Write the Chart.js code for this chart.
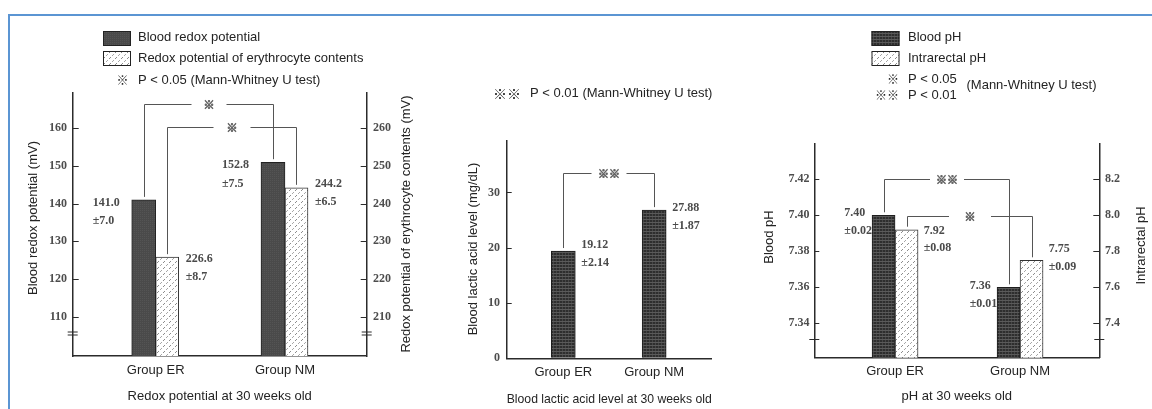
<!DOCTYPE html>
<html>
<head>
<meta charset="utf-8">
<script src="https://cdn.jsdelivr.net/npm/chart.js@4.4.1/dist/chart.umd.min.js"></script>
<style>
  html, body { margin: 0; padding: 0; background: #fff; }
  #wrap { position: relative; width: 1152px; height: 409px; overflow: hidden; }
  #frame { position: absolute; left: 8px; top: 14px; right: -10px; bottom: -10px;
           border-top: 2px solid #5b95d3; border-left: 2px solid #5b95d3; }
  canvas { position: absolute; top: 0; }
</style>
</head>
<body>
<div id="wrap">
  <div id="frame"></div>
  <canvas id="redox" width="415" height="409" style="left:0"></canvas>
  <canvas id="lactic" width="335" height="409" style="left:415px"></canvas>
  <canvas id="ph" width="402" height="409" style="left:750px"></canvas>
</div>
<script>
// ---- data ----
const groups = ["Group ER", "Group NM"];
const groupPos = [1, 2];

// bar heights as drawn in the figure
const bloodRedox = [141.0, 151.0];
const erythRedox = [225.8, 244.2];
const bloodRedoxMean = ["141.0", "152.8"];
const bloodRedoxSd = ["±7.0", "±7.5"];
const erythRedoxMean = ["226.6", "244.2"];
const erythRedoxSd = ["±8.7", "±6.5"];
const redoxTicksLeft = [110, 120, 130, 140, 150, 160];
const redoxTicksRight = [210, 220, 230, 240, 250, 260];

const lactic = [19.4, 26.8];
const lacticMean = ["19.12", "27.88"];
const lacticSd = ["±2.14", "±1.87"];
const lacticTicks = [0, 10, 20, 30];

const bloodPH = [7.40, 7.36];
const rectalPH = [7.92, 7.75];
const bloodPHMean = ["7.40", "7.36"];
const bloodPHSd = ["±0.02", "±0.01"];
const rectalPHMean = ["7.92", "7.75"];
const rectalPHSd = ["±0.08", "±0.09"];
const phTicksLeft = [7.34, 7.36, 7.38, 7.40, 7.42];
const phTicksRight = [7.4, 7.6, 7.8, 8.0, 8.2];

// ---- look ----
const SANS = '"Liberation Sans", Arial, "Noto Sans CJK JP", sans-serif';
const SERIF = '"Liberation Serif", "DejaVu Serif", serif';
const MARK = '"Noto Sans CJK JP", "DejaVu Sans", sans-serif';
const INK = "#2b2b2b";
const TXT = "#242424";
const TICK = "#4d4d4d";
const LINE = "#555555";

function tile(size, paint) {
  const c = document.createElement("canvas");
  c.width = size; c.height = size;
  const g = c.getContext("2d");
  paint(g);
  return g.createPattern(c, "repeat");
}
const SOLID_DARK = tile(2, (g) => {
  g.fillStyle = "#4a4a4a"; g.fillRect(0, 0, 2, 2);
  g.fillStyle = "#545454"; g.fillRect(0, 0, 1, 1);
});
const GRID_DARK = tile(3, (g) => {
  g.fillStyle = "#2e2e2e"; g.fillRect(0, 0, 3, 3);
  g.fillStyle = "#5a5a5a"; g.fillRect(0, 0, 3, 1);
  g.fillStyle = "#464646"; g.fillRect(0, 1, 1, 2);
});
const DOTTED = tile(6, (g) => {
  g.fillStyle = "#ffffff"; g.fillRect(0, 0, 6, 6);
  g.fillStyle = "#8c8c8c";
  g.fillRect(1, 4, 1, 1); g.fillRect(2, 3, 1, 1);
  g.fillStyle = "#a8a8a8";
  g.fillRect(4, 1, 1, 1); g.fillRect(5, 0, 1, 1);
});

function points(values) {
  return groupPos.map((x, i) => ({ x, y: values[i] }));
}

function groupAxis(min, max, height, labelPad, title, titlePad) {
  return {
    type: "linear", position: "bottom", min, max, offset: false,
    afterBuildTicks: (s) => { s.ticks = groupPos.map((v) => ({ value: v })); },
    afterFit: (s) => { s.height = height; },
    grid: { display: true, drawOnChartArea: false, drawTicks: false, offset: false },
    border: { display: true, color: INK, width: 1.5 },
    ticks: {
      color: TXT, padding: labelPad, maxRotation: 0, autoSkip: false,
      font: { family: SANS, size: 13 },
      callback: (v) => groups[groupPos.indexOf(v)] || "",
    },
    title: { display: true, text: title, color: TXT, font: { family: SANS, size: 13 },
             padding: { top: 0, bottom: titlePad } },
  };
}

function valueAxis(position, min, max, tickList, digits, width, labelPad) {
  return {
    type: "linear", position, min, max,
    afterBuildTicks: (s) => { s.ticks = tickList.map((v) => ({ value: v })); },
    afterFit: (s) => { s.width = width; },
    grid: { display: true, drawOnChartArea: false, drawTicks: false },
    border: { display: true, color: INK, width: 1.5 },
    ticks: {
      color: TICK, padding: labelPad,
      font: { family: SERIF, size: 12, weight: "bold" },
      callback: (v) => Number(v).toFixed(digits),
    },
  };
}

// annotations drawn on top: legend, inward tick marks, significance brackets, mean ± sd, axis breaks
function decor(cfg) {
  return {
    id: "decor",
    afterDraw(chart) {
      const ctx = chart.ctx;
      const area = chart.chartArea;
      ctx.save();

      (cfg.swatches || []).forEach((s) => {
        ctx.fillStyle = s.fill;
        ctx.fillRect(s.x, s.y, s.w, s.h);
        ctx.strokeStyle = "#222"; ctx.lineWidth = 1;
        ctx.strokeRect(s.x + 0.5, s.y + 0.5, s.w - 1, s.h - 1);
      });
      (cfg.texts || []).forEach((t) => {
        ctx.font = t.font || "13px " + SANS;
        ctx.fillStyle = TXT;
        ctx.textAlign = t.align || "left";
        ctx.textBaseline = "middle";
        ctx.fillText(t.text, t.x, t.y);
      });

      (cfg.vtitles || []).forEach((t) => {
        ctx.save();
        ctx.translate(t.x, t.y);
        ctx.rotate(-Math.PI / 2);
        ctx.font = "13px " + SANS;
        ctx.fillStyle = TXT;
        ctx.textAlign = "center";
        ctx.textBaseline = "middle";
        ctx.fillText(t.text, 0, 0);
        ctx.restore();
      });

      // tick marks pointing into the plot
      (cfg.inTicks || []).forEach((k) => {
        const s = chart.scales[k.axis];
        const x0 = k.axis === "y" ? area.left : area.right;
        const dir = k.axis === "y" ? 1 : -1;
        ctx.strokeStyle = INK; ctx.lineWidth = 1.2;
        ctx.beginPath();
        s.ticks.forEach((t) => {
          const y = Math.round(s.getPixelForValue(t.value)) + 0.5;
          ctx.moveTo(x0, y); ctx.lineTo(x0 + dir * k.len, y);
        });
        ctx.stroke();
      });

      (cfg.brackets || []).forEach((b) => {
        const a = chart.getDatasetMeta(b.from[0]).data[b.from[1]];
        const z = chart.getDatasetMeta(b.to[0]).data[b.to[1]];
        const yl = Math.round(chart.scales[b.axis].getPixelForValue(b.level)) + 0.5;
        const x1 = Math.round(a.x) + 0.5, x2 = Math.round(z.x) + 0.5;
        const mid = (x1 + x2) / 2, half = b.gap / 2;
        ctx.strokeStyle = LINE; ctx.lineWidth = 1;
        ctx.beginPath();
        ctx.moveTo(x1, a.y - 3); ctx.lineTo(x1, yl); ctx.lineTo(mid - half, yl);
        ctx.moveTo(mid + half, yl); ctx.lineTo(x2, yl); ctx.lineTo(x2, z.y - 3);
        ctx.stroke();
        ctx.font = "bold 11px " + MARK;
        ctx.fillStyle = "#505050";
        ctx.strokeStyle = "#666"; ctx.lineWidth = 0.8;
        ctx.textAlign = "center"; ctx.textBaseline = "middle";
        ctx.fillText(b.mark, mid, yl);
        ctx.strokeText(b.mark, mid, yl);
      });

      (cfg.values || []).forEach((v) => {
        const bar = chart.getDatasetMeta(v.ds).data[v.idx];
        const half = bar.width / 2;
        const x = v.side === "left" ? bar.x - half + v.dx : bar.x + half + v.dx;
        ctx.font = "bold 12px " + SERIF;
        ctx.fillStyle = "#4a4a4a";
        ctx.textAlign = "left"; ctx.textBaseline = "middle";
        v.lines.forEach((t, i) => ctx.fillText(t, x, bar.y + v.dy + i * cfg.lineGap));
      });

      (cfg.breaks || []).forEach((k) => {
        const y = Math.round(chart.scales[k.axis].getPixelForValue(k.value)) + 0.5;
        const x = k.axis === "y" ? area.left : area.right;
        ctx.strokeStyle = INK; ctx.lineWidth = 1;
        ctx.beginPath();
        const offs = k.double ? [-1.5, 1.5] : [0];
        offs.forEach((o) => { ctx.moveTo(x - 5, y + o); ctx.lineTo(x + 5, y + o); });
        ctx.stroke();
      });

      ctx.restore();
    },
  };
}

const base = {
  responsive: false,
  animation: false,
  events: [],
};

// ---- panel 1: redox potential ----
new Chart(document.getElementById("redox"), {
  type: "bar",
  data: {
    datasets: [
      { label: "Blood redox potential", data: points(bloodRedox), yAxisID: "y",
        backgroundColor: SOLID_DARK, borderColor: "#222", borderWidth: 1, barThickness: 24 },
      { label: "Redox potential of erythrocyte contents", data: points(erythRedox), yAxisID: "y2",
        backgroundColor: DOTTED, borderColor: "#333", borderWidth: 1, barThickness: 23 },
    ],
  },
  options: {
    ...base,
    layout: { padding: { top: 93, left: 0, right: 0, bottom: 0 } },
    plugins: { legend: { display: false }, tooltip: { enabled: false } },
    scales: {
      x: groupAxis(0.358, 2.632, 53, 6.9, "Redox potential at 30 weeks old", 4.5),
      y: valueAxis("left", 99.57, 169.37, redoxTicksLeft, 0, 72.7, 5.7),
      y2: valueAxis("right", 199.57, 269.37, redoxTicksRight, 0, 48.3, 6.3),
    },
  },
  plugins: [decor({
    swatches: [
      { x: 103, y: 31, w: 28, h: 15, fill: SOLID_DARK },
      { x: 103, y: 51, w: 28, h: 15, fill: DOTTED },
    ],
    texts: [
      { text: "Blood redox potential", x: 138, y: 37.5 },
      { text: "Redox potential of erythrocyte contents", x: 138, y: 58.5 },
      { text: "※", x: 122.5, y: 80, align: "center", font: "12px " + MARK },
      { text: "P < 0.05 (Mann-Whitney U test)", x: 138, y: 80 },
    ],
    vtitles: [
      { text: "Blood redox potential (mV)", x: 33.5, y: 218 },
      { text: "Redox potential of erythrocyte contents (mV)", x: 406, y: 224 },
    ],
    inTicks: [{ axis: "y", len: 6 }, { axis: "y2", len: 6 }],
    brackets: [
      { from: [0, 0], to: [0, 1], axis: "y", level: 166.5, gap: 35, mark: "※" },
      { from: [1, 0], to: [1, 1], axis: "y", level: 160.3, gap: 37, mark: "※" },
    ],
    lineGap: 18.5,
    values: [
      { ds: 0, idx: 0, side: "left", dx: -39, dy: 3, lines: [bloodRedoxMean[0], bloodRedoxSd[0]] },
      { ds: 1, idx: 0, side: "right", dx: 7, dy: 1.5, lines: [erythRedoxMean[0], erythRedoxSd[0]] },
      { ds: 0, idx: 1, side: "left", dx: -39, dy: 3, lines: [bloodRedoxMean[1], bloodRedoxSd[1]] },
      { ds: 1, idx: 1, side: "right", dx: 7, dy: -4, lines: [erythRedoxMean[1], erythRedoxSd[1]] },
    ],
    breaks: [
      { axis: "y", value: 105.67, double: true },
      { axis: "y2", value: 205.67, double: true },
    ],
  })],
});

// ---- panel 2: blood lactic acid ----
new Chart(document.getElementById("lactic"), {
  type: "bar",
  data: {
    datasets: [
      { label: "Blood lactic acid level", data: points(lactic), yAxisID: "y",
        backgroundColor: GRID_DARK, borderColor: "#1e1e1e", borderWidth: 1, barThickness: 24 },
    ],
  },
  options: {
    ...base,
    layout: { padding: { top: 141, left: 0, right: 38.3, bottom: 0 } },
    plugins: { legend: { display: false }, tooltip: { enabled: false } },
    scales: {
      x: groupAxis(0.377, 2.633, 50.7, 6.2, "Blood lactic acid level at 30 weeks old", 2.2),
      y: valueAxis("left", 0, 39.3, lacticTicks, 0, 91.7, 6.7),
    },
  },
  plugins: [decor({
    texts: [
      { text: "※※", x: 92, y: 93.5, align: "center", font: "14px " + MARK },
      { text: "P < 0.01 (Mann-Whitney U test)", x: 115, y: 93.5 },
    ],
    vtitles: [
      { text: "Blood lactic acid level (mg/dL)", x: 58.3, y: 249 },
    ],
    inTicks: [{ axis: "y", len: 5 }],
    brackets: [
      { from: [0, 0], to: [0, 1], axis: "y", level: 33.45, gap: 35, mark: "※※" },
    ],
    lineGap: 18,
    values: [
      { ds: 0, idx: 0, side: "right", dx: 6, dy: -5.7, lines: [lacticMean[0], lacticSd[0]] },
      { ds: 0, idx: 1, side: "right", dx: 6, dy: -2.4, lines: [lacticMean[1], lacticSd[1]] },
    ],
  })],
});

// ---- panel 3: pH ----
new Chart(document.getElementById("ph"), {
  type: "bar",
  data: {
    datasets: [
      { label: "Blood pH", data: points(bloodPH), yAxisID: "y",
        backgroundColor: GRID_DARK, borderColor: "#1e1e1e", borderWidth: 1, barThickness: 23 },
      { label: "Intrarectal pH", data: points(rectalPH), yAxisID: "y2",
        backgroundColor: DOTTED, borderColor: "#333", borderWidth: 1, barThickness: 23 },
    ],
  },
  options: {
    ...base,
    layout: { padding: { top: 143.3, left: 0, right: 0, bottom: 0 } },
    plugins: { legend: { display: false }, tooltip: { enabled: false } },
    scales: {
      x: groupAxis(0.354, 2.634, 51.3, 5.5, "pH at 30 weeks old", 5.2),
      y: valueAxis("left", 7.3209, 7.44, phTicksLeft, 2, 64.3, 4.8),
      y2: valueAxis("right", 7.209, 8.4, phTicksRight, 1, 52.7, 5.7),
    },
  },
  plugins: [decor({
    swatches: [
      { x: 121.5, y: 31, w: 28, h: 15, fill: GRID_DARK },
      { x: 121.5, y: 51, w: 28, h: 15, fill: DOTTED },
    ],
    texts: [
      { text: "Blood pH", x: 158, y: 37.5 },
      { text: "Intrarectal pH", x: 158, y: 58.5 },
      { text: "※", x: 149, y: 79, align: "right", font: "12px " + MARK },
      { text: "※※", x: 149, y: 95, align: "right", font: "12px " + MARK },
      { text: "P < 0.05", x: 158, y: 79 },
      { text: "P < 0.01", x: 158, y: 95 },
      { text: "(Mann-Whitney U test)", x: 216.5, y: 85.5 },
    ],
    vtitles: [
      { text: "Blood pH", x: 19.3, y: 237 },
      { text: "Intrarectal pH", x: 391.7, y: 245.5 },
    ],
    inTicks: [{ axis: "y", len: 5 }, { axis: "y2", len: 6 }],
    brackets: [
      { from: [0, 0], to: [0, 1], axis: "y", level: 7.42, gap: 34, mark: "※※" },
      { from: [1, 0], to: [1, 1], axis: "y", level: 7.3998, gap: 42, mark: "※" },
    ],
    lineGap: 17.7,
    values: [
      { ds: 0, idx: 0, side: "left", dx: -27.7, dy: -2, lines: [bloodPHMean[0], bloodPHSd[0]] },
      { ds: 1, idx: 0, side: "right", dx: 5.6, dy: 0.7, lines: [rectalPHMean[0], rectalPHSd[0]] },
      { ds: 0, idx: 1, side: "left", dx: -27.4, dy: -1.6, lines: [bloodPHMean[1], bloodPHSd[1]] },
      { ds: 1, idx: 1, side: "right", dx: 5.6, dy: -11.3, lines: [rectalPHMean[1], rectalPHSd[1]] },
    ],
    breaks: [
      { axis: "y", value: 7.3311, double: false },
      { axis: "y2", value: 7.311, double: false },
    ],
  })],
});
</script>
</body>
</html>
